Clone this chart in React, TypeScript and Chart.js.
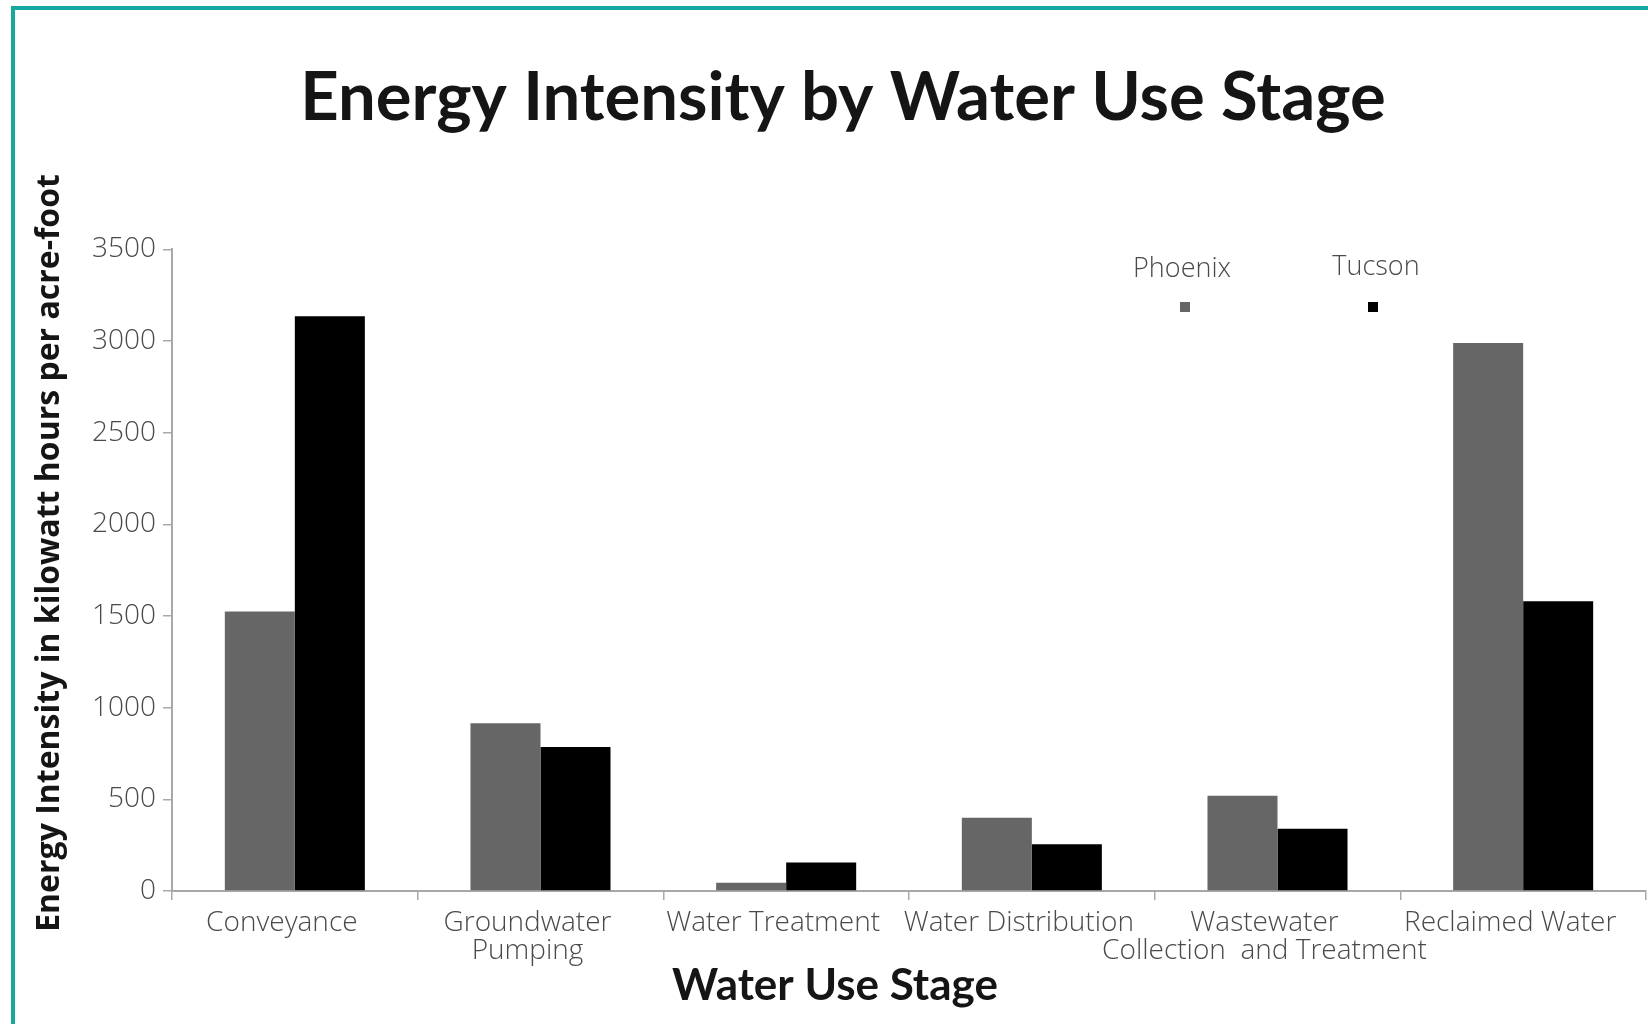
import React, { useEffect, useRef } from "react";
import { Chart, registerables } from "chart.js";

Chart.register(...registerables);

// ---- data ----
const categories: string[][] = [
  ["Conveyance"],
  ["Groundwater", "Pumping"],
  ["Water Treatment"],
  ["Water Distribution"],
  ["Wastewater", "Collection  and Treatment"],
  ["Reclaimed Water"],
];
const seriesNames = ["Phoenix", "Tucson"];
const phoenixValues = [1525, 915, 45, 400, 520, 2990];
const tucsonValues = [3135, 785, 155, 255, 340, 1580];
const yMax = 3500;
const yStep = 500;
const chartTitle = "Energy Intensity by Water Use Stage";
const yAxisTitle = "Energy Intensity in kilowatt hours per acre-foot";
const xAxisTitle = "Water Use Stage";

const seriesColors = ["#666666", "#000000"];
const textGray = "#4a4a4a";
const axisGray = "#a8a8a8";

const overlayPlugin = {
  id: "overlayTexts",
  afterDraw(chart: any) {
    const ctx = chart.ctx as CanvasRenderingContext2D;
    // y-axis title
    ctx.save();
    ctx.translate(50, 553);
    ctx.rotate(-Math.PI / 2);
    ctx.font = "bold 32px 'Open Sans'";
    ctx.fillStyle = "#151515";
    ctx.textAlign = "center";
    ctx.textBaseline = "middle";
    ctx.fillText(yAxisTitle, 0, 0);
    ctx.restore();
    // x-axis title
    ctx.save();
    ctx.font = "bold 44px Lato";
    ctx.fillStyle = "#151515";
    ctx.textAlign = "center";
    ctx.textBaseline = "middle";
    ctx.fillText(xAxisTitle, 835, 986);
    ctx.restore();
    // legend: label above a small square
    const legendPos = [
      { tx: 1182, ty: 269, sx: 1185, sy: 307 },
      { tx: 1376, ty: 267, sx: 1373, sy: 307 },
    ];
    chart.data.datasets.forEach((ds: any, i: number) => {
      const p = legendPos[i];
      ctx.save();
      ctx.font = "300 27px 'Open Sans'";
      ctx.fillStyle = textGray;
      ctx.textAlign = "center";
      ctx.textBaseline = "middle";
      ctx.fillText(ds.label, p.tx, p.ty);
      ctx.fillStyle = ds.backgroundColor;
      ctx.fillRect(p.sx - 5, p.sy - 5, 10, 10);
      ctx.restore();
    });
  },
};

export default function App() {
  const canvasRef = useRef<HTMLCanvasElement | null>(null);

  useEffect(() => {
    if (!canvasRef.current) return;
    const chart = new Chart(canvasRef.current, {
      type: "bar",
      data: {
        labels: categories,
        datasets: [
          {
            label: seriesNames[0],
            data: phoenixValues,
            backgroundColor: seriesColors[0],
            borderWidth: 0,
          },
          {
            label: seriesNames[1],
            data: tucsonValues,
            backgroundColor: seriesColors[1],
            borderWidth: 0,
          },
        ],
      },
      options: {
        animation: false,
        responsive: false,
        maintainAspectRatio: false,
        layout: { padding: { left: 40, right: 2, top: 0, bottom: 0 } },
        datasets: {
          bar: { categoryPercentage: 0.57, barPercentage: 1.0 },
        },
        plugins: {
          legend: { display: false },
          tooltip: { enabled: false },
          title: {
            display: true,
            text: chartTitle,
            color: "#151515",
            font: { family: "Lato", size: 67, weight: "bold", lineHeight: 1.2 },
            padding: { top: 58, bottom: 111 },
          },
        },
        scales: {
          x: {
            grid: {
              drawOnChartArea: false,
              drawTicks: true,
              tickLength: 9,
              color: axisGray,
              lineWidth: 1.5,
            },
            border: { display: true, color: axisGray, width: 2 },
            ticks: {
              color: textGray,
              font: { family: "'Open Sans'", size: 28, weight: "300", lineHeight: 1.0 },
              maxRotation: 0,
              minRotation: 0,
              autoSkip: false,
              padding: 9,
              labelOffset: -13,
            },
            afterFit: (scale: any) => {
              scale.height = 133;
            },
          },
          y: {
            min: 0,
            max: yMax,
            grid: {
              drawOnChartArea: false,
              drawTicks: true,
              tickLength: 9,
              color: axisGray,
              lineWidth: 1.5,
            },
            border: { display: true, color: axisGray, width: 2 },
            ticks: {
              stepSize: yStep,
              color: textGray,
              font: { family: "'Open Sans'", size: 28, weight: "300" },
              padding: 7,
              callback: (v: any) => String(v),
            },
            afterFit: (scale: any) => {
              scale.width = 132;
            },
          },
        },
      },
      plugins: [overlayPlugin],
    });
    return () => chart.destroy();
  }, []);

  return (
    <div
      style={{
        position: "fixed",
        left: 0,
        top: 0,
        width: 1648,
        height: 1024,
        background: "#ffffff",
        overflow: "hidden",
      }}
    >
      <canvas
        ref={canvasRef}
        width={1648}
        height={1024}
        style={{ display: "block", width: 1648, height: 1024 }}
      />
      <div
        style={{
          position: "absolute",
          left: 11,
          top: 6,
          width: 2000,
          height: 2000,
          borderTop: "4px solid #17a89f",
          borderLeft: "4px solid #17a89f",
          pointerEvents: "none",
        }}
      />
    </div>
  );
}
